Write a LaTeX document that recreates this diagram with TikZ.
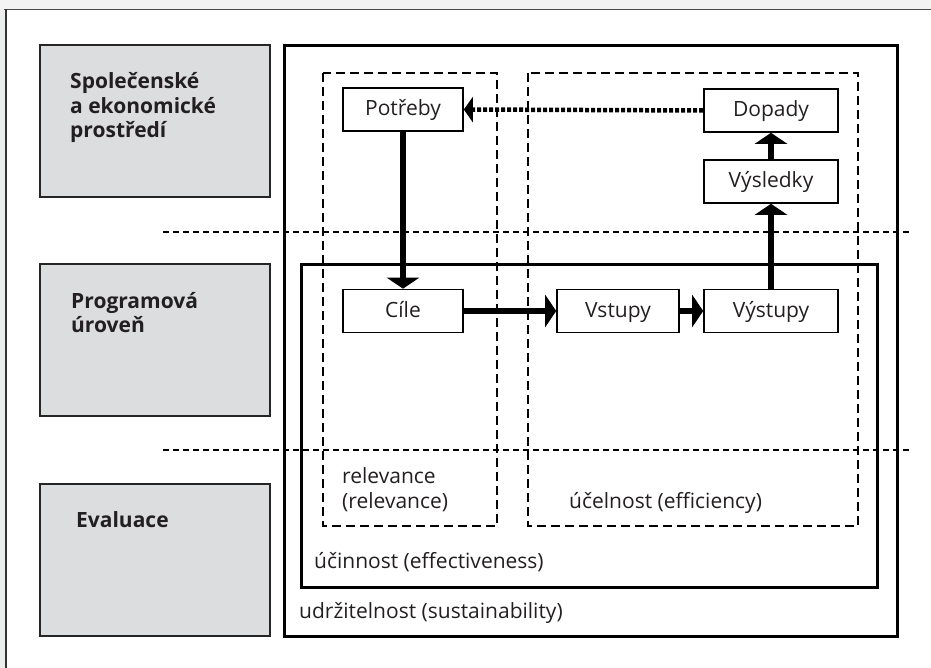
\documentclass[tikz,border=0pt]{standalone}
\usepackage{fontspec}
\setmainfont{Open Sans}
\usetikzlibrary{arrows.meta}
\definecolor{boxgrey}{HTML}{DCDDDF}
\definecolor{bandgrey}{HTML}{F2F3F2}
\definecolor{stripgrey}{HTML}{ECEDED}
\definecolor{ink}{HTML}{231F20}
\begin{document}
\begin{tikzpicture}[x=1pt,y=-1pt,
  txt/.style={font=\fontsize{21}{25}\selectfont, text=ink, anchor=base west, inner sep=0pt},
  hdr/.style={font=\fontsize{21}{24.5}\selectfont\bfseries, text=ink, anchor=base west, inner sep=0pt},
  stage/.style={draw, line width=1.6pt, minimum width=120pt, minimum height=43pt, inner sep=0pt, text height=17pt, text depth=4pt, text=ink, font=\fontsize{21}{25}\selectfont},
  greybox/.style={draw=black!85, fill=boxgrey, line width=1.6pt},
  solidbox/.style={draw, line width=3pt},
  dashbox/.style={draw, line width=2.7pt, dash pattern=on 9pt off 5pt},
  levelline/.style={draw, line width=2.6pt, dash pattern=on 6pt off 4pt},
  flow/.style={line width=6pt, -{Triangle[length=11pt,width=32pt]}},
  feedback/.style={line width=4.5pt, dash pattern=on 4pt off 2pt, -{Triangle[length=9pt,width=25pt]}}
]
\useasboundingbox (0,0) rectangle (931,668);
% frame remnants
\fill[bandgrey] (0,0) rectangle (931,9);
\fill[stripgrey] (0,9) rectangle (6,668);
\draw[black!70, line width=1.8pt] (4,9.5) -- (931,9.5);
\draw[black!80, line width=1.8pt] (6,9.5) -- (6,668);

% grey level boxes
\draw[greybox] (40,45) rectangle (270,197);
\draw[greybox] (40,264) rectangle (270,416);
\draw[greybox] (40,484) rectangle (270,636);
\node[hdr] (h1) at (70,89) {\vtop{\hbox{Společenské}\hbox{a ekonomické}\hbox{prostředí}}};
\node[hdr] (h2) at (71,308) {\vtop{\hbox{Programová}\hbox{úroveň}}};
\node[hdr] (h3) at (76,527) {Evaluace};

% criteria boxes
\draw[solidbox] (284,46) rectangle (897,636);
\draw[solidbox] (301,265) rectangle (877,587);
\draw[dashbox] (323,73) rectangle (497,526);
\draw[dashbox] (528,73) rectangle (858,526);

% level separators
\draw[levelline] (163,232) -- (912,232);
\draw[levelline] (163,450) -- (912,450);

% stages
\node[stage] (potreby) at (403,109.5) {Potřeby};
\node[stage] (cile) at (403,311) {Cíle};
\node[stage, minimum width=122pt] (vstupy) at (618,311) {Vstupy};
\node[stage, minimum width=134pt] (vystupy) at (771,311) {Výstupy};
\node[stage, minimum width=134pt] (vysledky) at (771,181.5) {Výsledky};
\node[stage, minimum width=134pt] (dopady) at (771,110.5) {Dopady};

% connectors
\draw[flow] (potreby.south) -- (cile.north);
\draw[flow] (cile.east) -- (vstupy.west);
\draw[flow] (vstupy.east) -- (vystupy.west);
\draw[flow] (vystupy.north) -- (vysledky.south);
\draw[flow] (vysledky.north) -- (dopady.south);
\draw[feedback] (dopady.west) -- (potreby.east);

% criteria labels
\node[txt] (rel) at (342,483) {\vtop{\hbox{relevance}\hbox{(relevance)}}};
\node[txt] (eff) at (569,508) {účelnost (efficiency)};
\node[txt] (effc) at (314,568) {účinnost (effectiveness)};
\node[txt] (sus) at (299,618) {udržitelnost (sustainability)};
\end{tikzpicture}
\end{document}
